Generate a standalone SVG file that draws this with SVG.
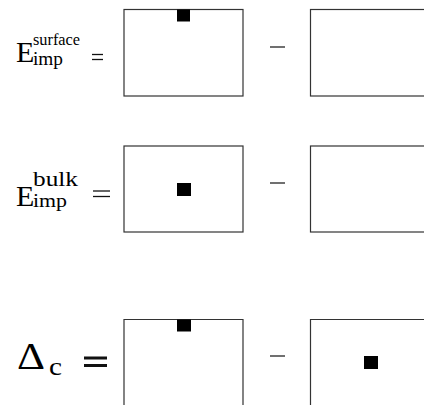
<svg xmlns="http://www.w3.org/2000/svg" width="424" height="405" viewBox="0 0 424 405">
<style>
.box{fill:none;stroke:#333;stroke-width:1.2}
.atom{fill:#000}
.minus{stroke:#222;stroke-width:1.3}
.t{font-family:"Liberation Serif","Times New Roman",serif;fill:#000}
.eq{stroke:#111;stroke-width:1.3}
</style>
<rect width="424" height="405" fill="#fff"/>
<g id="row1">
  <text class="t" x="16" y="62" font-size="30">E</text>
  <text class="t" x="33" y="45" font-size="17" textLength="47" lengthAdjust="spacingAndGlyphs">surface</text>
  <text class="t" x="33" y="64.5" font-size="18" textLength="30" lengthAdjust="spacingAndGlyphs">imp</text>
  <line class="eq" x1="92" y1="54.5" x2="103" y2="54.5"/>
  <line class="eq" x1="92" y1="59.5" x2="103" y2="59.5"/>
  <g id="box1a"><rect class="box" x="124" y="9.5" width="119" height="86.5"/><rect class="atom" x="177" y="9.5" width="13" height="12"/></g>
  <line class="minus" x1="270" y1="47" x2="285" y2="47"/>
  <g id="box1b"><rect class="box" x="310.5" y="9.5" width="130" height="86.5"/></g>
</g>
<g id="row2">
  <text class="t" x="16" y="206" font-size="30">E</text>
  <text class="t" x="33" y="186" font-size="20" textLength="45" lengthAdjust="spacingAndGlyphs">bulk</text>
  <text class="t" x="33" y="207" font-size="19" textLength="34" lengthAdjust="spacingAndGlyphs">imp</text>
  <line class="eq" x1="93" y1="191" x2="110" y2="191"/>
  <line class="eq" x1="93" y1="196.5" x2="110" y2="196.5"/>
  <g id="box2a"><rect class="box" x="124" y="146" width="119" height="86"/><rect class="atom" x="177" y="183" width="14" height="13"/></g>
  <line class="minus" x1="270" y1="183" x2="285" y2="183"/>
  <g id="box2b"><rect class="box" x="310.5" y="146" width="130" height="86"/></g>
</g>
<g id="row3">
  <text class="t" x="17" y="369" font-size="37" textLength="28" lengthAdjust="spacingAndGlyphs">Δ</text>
  <text class="t" x="49" y="375" font-size="25" textLength="13" lengthAdjust="spacingAndGlyphs">c</text>
  <rect x="84" y="356.5" width="23" height="3" fill="#111"/>
  <rect x="84" y="364" width="23" height="3" fill="#111"/>
  <g id="box3a"><path class="box" d="M124 406V319.5H243V406"/><rect class="atom" x="177" y="319.5" width="14" height="12"/></g>
  <line class="minus" x1="270" y1="356" x2="285" y2="356"/>
  <g id="box3b"><path class="box" d="M310.5 406V319.5H430"/><rect class="atom" x="364" y="356" width="14" height="13"/></g>
</g>
<g id="connectors"/>
</svg>
